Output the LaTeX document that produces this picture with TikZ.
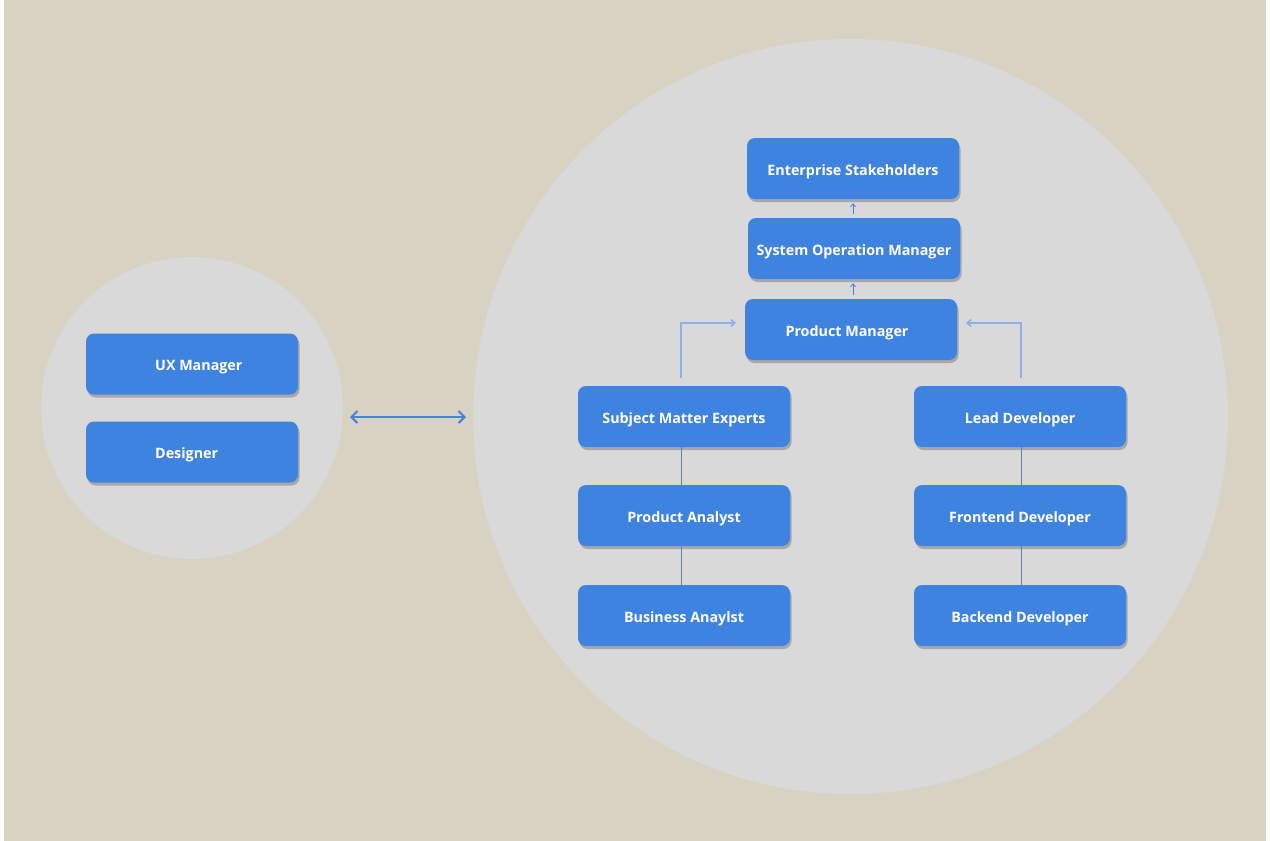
\documentclass[tikz,border=0pt]{standalone}
\usepackage{fontspec}
\setmainfont{Open Sans}
\usetikzlibrary{shadows,arrows.meta}
\definecolor{bgc}{HTML}{D8D2C2}
\definecolor{circc}{HTML}{D9D9D9}
\definecolor{boxc}{HTML}{3F83E0}
\definecolor{arrc}{HTML}{8CB0EA}
\definecolor{linec}{HTML}{4A80D8}
\tikzset{
  lbl/.style={text=white, font=\bfseries\fontsize{14.3}{17}\selectfont, inner sep=0pt, text height=13pt, text depth=0pt},
  box/.style={lbl, fill=boxc, rounded corners=8pt, minimum width=212pt, minimum height=61pt,
    drop shadow={shadow xshift=1.5pt, shadow yshift=-3pt, opacity=0.35, fill=black!70}},
  uparr/.style={draw=linec, line width=0.8pt, -{Straight Barb[length=3pt,width=5pt]}, shorten >=4pt, shorten <=4pt},
  elbow/.style={draw=arrc, line width=1.6pt, -{Straight Barb[length=4pt,width=7pt]}},
  vline/.style={draw=linec!60!gray, line width=0.8pt},
}
\begin{document}
\begin{tikzpicture}[x=1pt,y=-1pt]
\useasboundingbox (0,0) rectangle (1270,841);
\fill[white] (0,0) rectangle (1270,841);
\fill[bgc] (4,0) rectangle (1266,841);
\fill[circc] (192,408) circle (151);
\fill[circc] (850.5,416.5) circle (377.5);

\node[box] (ux) at (192,364) {};
\node[lbl, anchor=west] (uxt) at (155,364) {UX Manager};
\node[box] (des) at (192,452) {};
\node[lbl, anchor=west] (dest) at (155,452) {Designer};

\node[box] (es) at (853,168.5) {Enterprise Stakeholders};
\node[box] (som) at (854,248.5) {System Operation Manager};
\node[box] (pm) at (851,329.5) {};
\node[lbl] (pmt) at (847,329.5) {Product Manager};
\node[box] (sme) at (684,416.5) {Subject Matter Experts};
\node[box] (ld) at (1020,416.5) {Lead Developer};
\node[box] (pa) at (684,515.5) {Product Analyst};
\node[box] (fd) at (1020,515.5) {Frontend Developer};
\node[box] (ba) at (684,615.5) {Business Anaylst};
\node[box] (bd) at (1020,615.5) {Backend Developer};

\coordinate (dl) at (350,417);
\coordinate (dr) at (466,417);
\draw[draw=linec, line width=2pt, {Straight Barb[length=6pt,width=12pt]}-{Straight Barb[length=6pt,width=12pt]}] (dl) -- (dr);

\draw[uparr] (som.north -| 853,0) -- (es.south -| 853,0);
\draw[uparr] (pm.north -| 853,0) -- (som.south -| 853,0);

\coordinate (smeup) at (681,378);
\coordinate (pml) at (736,323);
\draw[elbow] (smeup) |- (pml);
\coordinate (ldup) at (1021,378);
\coordinate (pmr) at (966,323);
\draw[elbow] (ldup) |- (pmr);

\draw[vline] (sme.south -| 681,0) -- (pa.north -| 681,0);
\draw[vline] (pa.south -| 681,0) -- (ba.north -| 681,0);
\draw[vline] (ld.south -| 1021,0) -- (fd.north -| 1021,0);
\draw[vline] (fd.south -| 1021,0) -- (bd.north -| 1021,0);
\end{tikzpicture}
\end{document}
